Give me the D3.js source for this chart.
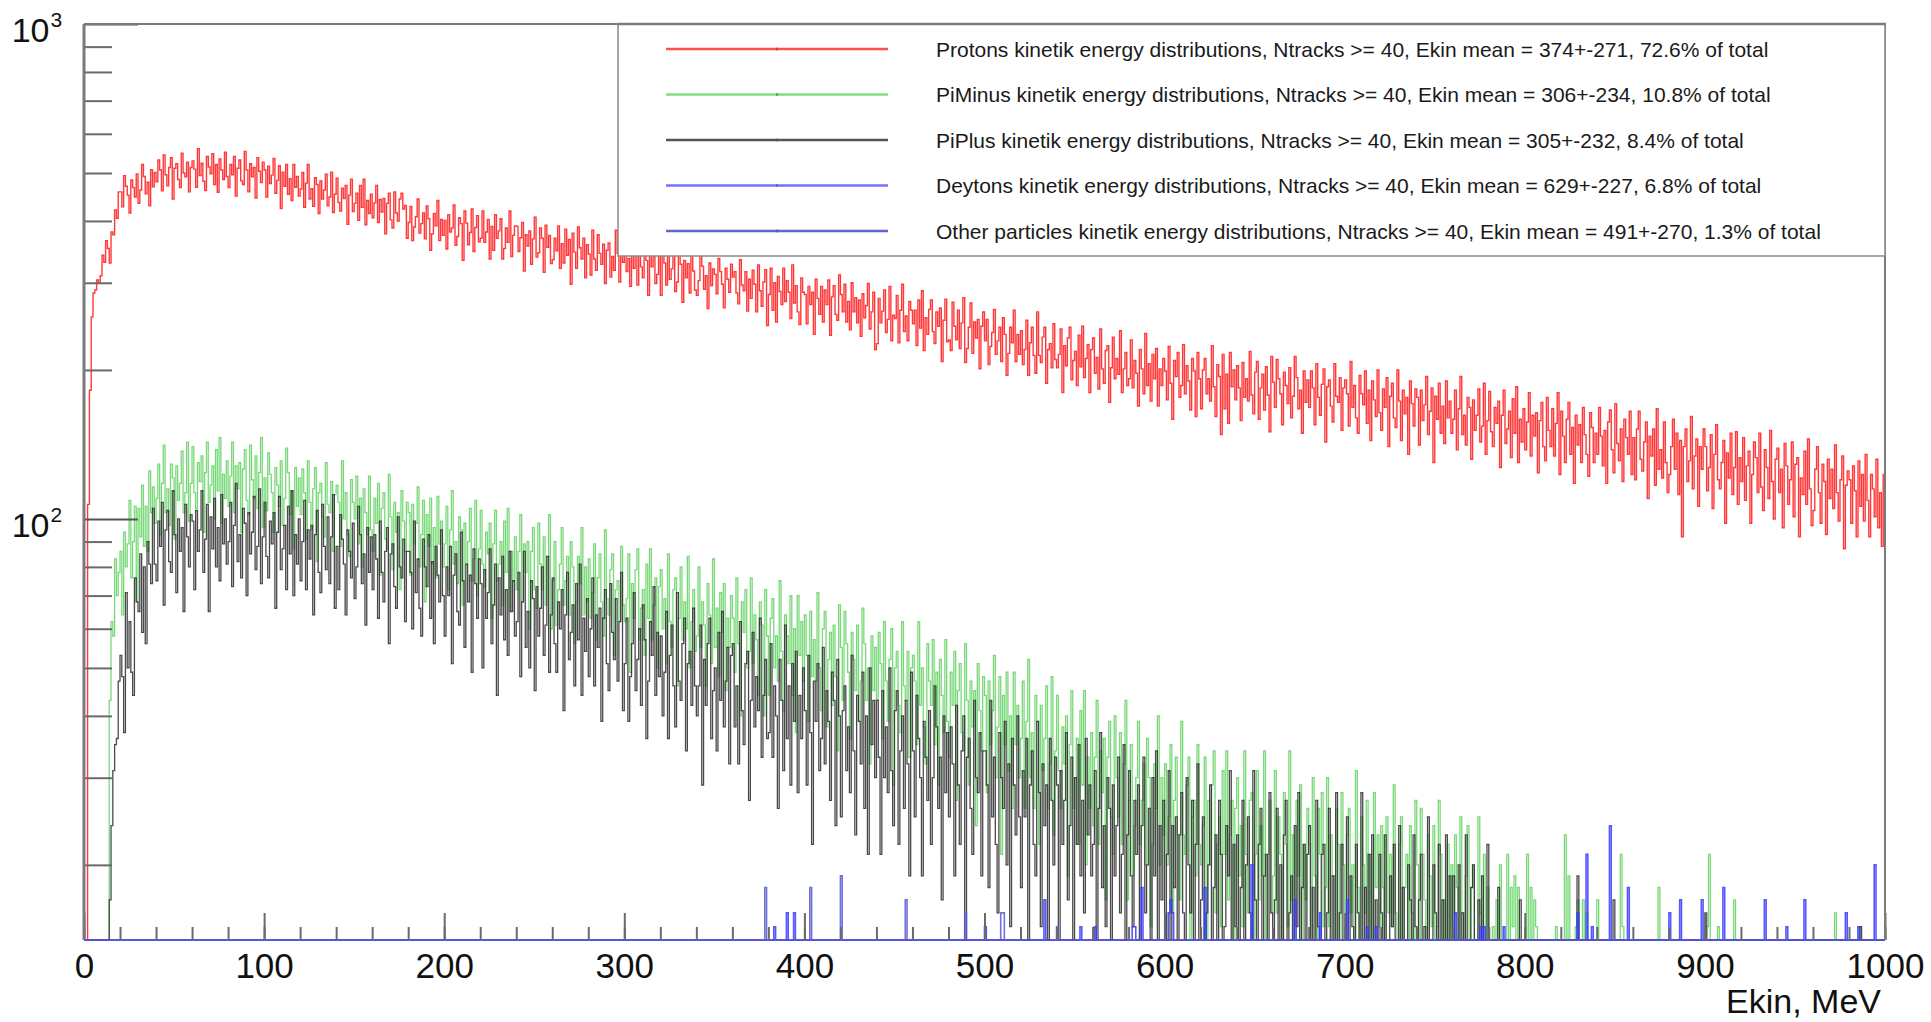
<!DOCTYPE html>
<html><head><meta charset="utf-8">
<script src="https://cdn.jsdelivr.net/npm/d3@7"></script>
<style>
html,body{margin:0;padding:0;background:#fff;}
svg{display:block;font-family:"Liberation Sans",Arial,Helvetica,sans-serif;}
</style></head><body>
<svg id="c" width="1931" height="1022"></svg>
<script>
// Bin contents, 1 MeV bins from 0 to 1000 MeV (counts)
const protons = [
0,0,107,182,256,286,290,304,300,310,341,330,365,352,329,380,375,421,405,458,
458,427,494,470,451,415,484,467,447,498,434,462,520,492,454,479,429,508,469,501,
480,531,507,460,544,496,471,513,537,443,511,522,485,467,548,500,491,526,458,513,
529,509,468,560,494,523,481,461,540,514,498,547,474,520,457,534,507,485,551,492,
467,520,496,540,449,511,531,482,474,553,507,458,522,491,513,445,537,504,478,526,
507,447,516,476,495,535,455,483,517,424,502,470,520,453,487,440,520,468,492,449,
464,501,426,477,520,443,465,428,489,474,414,482,443,462,497,429,447,502,416,453,
488,436,419,466,444,472,394,451,486,418,434,455,401,472,426,486,393,440,414,453,
406,435,472,397,442,417,444,377,434,455,402,387,458,415,400,443,455,423,430,369,
397,428,365,389,408,443,378,395,415,368,429,404,349,377,414,391,440,365,403,374,
401,351,412,380,387,431,357,372,406,395,333,419,396,358,379,423,347,388,410,363,
369,419,362,380,403,335,390,349,412,369,382,404,335,352,387,362,419,339,374,391,
390,347,370,397,317,375,356,382,327,368,407,338,345,387,369,315,392,354,374,328,
334,369,348,391,321,360,329,385,341,367,298,378,346,321,389,353,335,369,307,358,
343,311,383,335,318,375,344,327,359,299,349,361,308,339,318,383,344,301,363,330,
350,316,336,295,373,321,358,297,341,323,307,365,333,283,348,323,340,299,312,355,
283,366,329,297,344,305,320,354,288,301,347,327,274,333,307,328,286,353,317,290,
283,303,348,324,291,310,266,329,296,320,312,285,336,316,298,267,321,305,287,327,
308,316,286,272,334,297,289,316,263,305,279,318,298,262,326,289,269,301,319,246,
284,321,264,300,250,309,288,271,321,275,303,287,254,326,273,296,262,247,307,287,
284,248,295,271,287,236,305,279,259,295,250,290,271,304,235,281,296,259,252,311,
284,262,298,250,275,241,300,262,280,249,277,234,285,255,270,299,242,262,287,220,
226,279,249,263,290,238,253,295,229,258,254,283,227,264,298,239,257,229,275,264,
248,264,224,277,243,289,219,255,236,265,277,239,226,262,245,267,208,252,278,228,
230,219,274,245,230,264,221,249,280,207,221,244,273,216,250,232,253,201,245,262,
229,253,205,223,238,265,215,229,244,208,255,236,195,216,244,227,264,208,236,215,
240,205,220,252,195,227,244,214,197,262,214,207,233,244,188,220,226,202,248,210,
202,215,242,180,224,204,232,244,191,209,218,186,235,203,245,193,211,225,180,220,
232,197,212,183,242,201,188,219,224,172,202,233,192,211,196,240,180,201,217,186,
192,230,184,209,197,169,220,201,179,237,186,206,173,215,192,221,169,201,186,211,
199,174,223,188,159,209,194,217,176,186,225,179,204,190,166,211,199,161,217,192,
167,200,211,179,192,173,224,185,161,205,194,148,215,167,196,156,217,185,200,174,
204,184,158,207,176,192,173,218,178,163,198,208,159,184,196,166,203,178,150,213,
189,168,210,192,179,155,198,186,171,202,160,177,213,193,167,182,149,199,172,191,
168,199,184,155,206,176,162,187,201,143,185,191,169,157,206,177,172,193,151,184,
191,179,154,208,168,186,160,149,195,179,170,199,156,182,144,190,174,161,200,164,
151,183,168,193,140,177,188,160,153,200,173,144,182,163,176,135,190,171,154,183,
176,141,182,158,170,194,148,165,184,130,177,159,188,149,169,142,190,160,173,149,
159,182,138,167,194,148,162,141,176,168,132,174,151,162,183,143,154,188,135,158,
181,150,140,168,156,173,127,162,182,142,152,165,133,175,149,185,130,159,143,167,
138,157,180,134,162,147,164,124,158,172,140,131,176,151,140,167,134,156,180,123,
165,147,130,159,172,135,153,118,162,141,155,130,168,148,135,122,164,153,130,149,
135,168,147,128,151,118,157,166,138,124,171,142,131,152,119,159,146,135,165,123,
146,120,152,165,132,125,143,157,110,147,134,152,117,167,126,138,121,157,130,113,
123,140,159,126,149,112,144,92,140,152,119,131,161,115,134,145,106,140,126,152,
140,114,127,148,105,135,155,120,115,130,144,98,136,121,149,112,127,150,107,133,
119,146,109,128,137,98,123,143,133,113,149,116,104,138,127,110,151,119,100,132,
139,113,126,96,142,128,107,120,143,101,129,133,92,121,112,137,107,145,115,97,
104,126,140,113,98,129,119,93,132,110,126,105,141,113,99,120,134,87,117,125,
120,98,128,114,92,131,106,123,99,135,109,92,123,115,101,132,96,113,88,123
];
const piMinus = [
0,0,0,0,0,0,0,0,0,0,0,0,0,0,43,62,58,83,70,78,
86,64,94,80,89,109,76,90,106,68,105,92,117,88,106,86,125,103,116,98,
110,129,93,118,141,103,115,97,129,121,91,128,109,118,137,103,113,143,99,118,
140,113,105,130,119,134,94,124,143,108,117,128,100,138,114,146,98,123,110,131,
106,122,143,103,128,115,130,94,126,138,109,102,141,120,110,134,105,124,146,96,
121,104,136,123,113,94,127,117,106,131,97,110,139,124,102,114,87,127,106,121,
102,126,113,91,131,108,95,115,127,82,113,118,101,92,130,107,103,119,86,112,
117,108,88,131,100,113,93,84,120,108,100,122,89,110,80,115,103,93,122,95,
86,110,98,118,77,105,113,91,87,123,101,79,108,94,103,72,114,99,86,108,
103,77,107,89,98,116,80,93,109,68,102,88,110,81,96,76,111,89,99,80,
89,106,72,95,114,81,90,74,101,95,67,98,81,90,105,75,83,109,70,87,
104,81,73,94,85,98,63,89,104,75,81,90,67,99,78,105,65,86,75,92,
72,86,102,68,89,78,90,60,86,96,72,66,98,81,72,92,67,84,102,60,
75,90,61,72,81,96,67,75,84,64,90,80,56,68,84,74,96,64,80,68,
83,63,71,89,57,76,85,68,58,95,69,64,79,85,53,72,75,62,88,67,
62,69,85,49,74,63,79,87,57,66,72,53,81,63,87,57,67,76,50,73,
79,60,69,51,85,62,55,72,76,46,63,80,57,68,60,84,50,62,72,54,
58,80,55,68,61,46,74,64,51,83,55,66,48,71,59,74,45,63,55,70,
63,49,76,56,40,68,59,72,50,54,76,51,64,57,44,68,61,40,72,58,
44,63,69,50,58,47,75,54,41,64,58,51,70,44,60,37,70,53,62,47,
64,53,39,65,48,57,47,71,50,41,60,65,38,52,59,42,61,48,34,67,
55,43,65,56,49,36,59,52,45,61,39,47,66,56,43,50,32,58,45,55,
43,59,51,36,62,47,39,52,60,29,50,54,42,37,62,46,43,54,33,50,
53,47,35,62,42,50,38,32,56,47,42,57,35,49,29,52,44,37,57,39,
33,49,42,54,27,45,51,37,34,56,43,29,47,38,45,24,51,41,34,48,
44,28,47,35,41,53,30,38,48,21,44,35,49,31,40,26,49,35,42,30,
36,47,26,39,52,30,37,26,44,39,22,42,31,36,46,26,32,48,23,34,
44,31,26,38,32,40,19,35,45,26,30,36,22,41,29,45,20,33,26,37,
24,33,43,22,34,28,36,17,33,39,25,21,40,30,25,37,22,32,43,17,
27,35,19,24,30,39,22,27,32,20,36,30,15,22,32,26,40,20,30,23,
32,20,25,35,16,27,33,23,17,39,23,21,29,33,14,25,27,19,35,22,
20,24,33,13,27,20,29,34,16,22,25,15,31,21,34,17,23,27,13,26,
30,19,24,15,34,21,16,27,28,11,21,31,17,24,19,34,14,21,27,16,
19,31,16,25,21,12,28,22,15,34,17,23,13,27,19,29,12,22,17,26,
22,14,30,19,9,26,21,28,15,18,30,15,23,19,11,26,22,10,28,20,
12,23,26,16,20,14,31,18,11,25,20,16,27,12,21,8,28,18,23,15,
24,18,10,25,16,21,15,29,16,12,22,25,9,18,21,12,24,16,7,27,
20,13,26,21,17,9,23,19,15,24,10,15,27,21,13,17,7,22,14,20,
13,23,18,10,25,16,12,19,24,6,18,20,13,10,25,16,14,21,8,18,
13,11,15,12,17,10,20,12,14,11,21,13,18,15,19,11,18,9,12,10,
12,21,13,18,12,17,15,10,12,13,9,12,11,14,12,10,13,15,11,12,
10,14,23,13,19,12,11,13,15,17,12,10,17,12,16,9,12,11,13,11,
17,10,12,13,11,9,12,14,10,11,12,13,10,21,15,11,12,10,13,14,
12,10,11,9,13,12,11,10,12,13,9,11,10,12,18,10,11,13,9,12,
10,9,12,11,10,13,9,11,12,10,8,11,10,12,9,11,13,10,12,9,
11,15,21,13,10,12,9,15,11,10,13,12,9,11,10,12,17,11,9,10,
12,10,9,11,13,10,12,9,11,10,8,12,10,9,11,13,10,12,9,11,
10,12,9,11,10,13,9,12,11,10,9,12,10,11,9,10,13,11,9,12,
11,9,10,12,10,11,9,10,13,11,10,9,16,11,10,12,9,10,11,9,
10,11,9,12,10,15,11,9,10,12,11,10,9,11,13,10,9,12,10,11
];
const piPlus = [
0,0,0,0,0,0,0,0,0,0,0,0,0,0,17,24,31,35,36,47,
53,48,37,71,50,62,49,44,76,68,65,85,59,80,56,90,81,74,105,81,
75,99,88,108,67,95,104,82,78,114,93,71,100,86,96,65,107,92,80,102,
99,72,104,86,95,114,78,91,107,65,101,87,110,80,96,75,112,89,100,81,
90,108,73,97,118,82,93,76,105,98,70,103,85,94,111,79,88,115,74,92,
108,84,76,99,89,103,66,94,111,79,87,97,72,106,85,114,70,93,81,100,
75,90,109,72,95,83,97,64,93,104,78,71,107,88,79,101,74,92,112,66,
88,72,102,91,81,64,95,86,76,98,69,80,106,93,74,85,61,96,78,92,
72,93,83,63,99,78,68,86,96,56,85,89,73,66,101,80,76,91,62,86,
86,78,60,99,71,83,66,58,91,80,73,93,63,82,56,88,77,68,95,70,
58,80,70,88,51,77,85,65,61,94,75,55,81,68,77,49,87,74,63,83,
74,50,79,63,71,87,56,67,81,44,76,64,84,57,72,53,86,65,75,58,
62,78,48,68,86,55,65,50,75,69,45,73,58,66,80,53,61,84,49,64,
76,56,49,68,60,72,41,64,78,52,59,67,46,74,57,81,44,63,54,69,
48,60,76,46,64,55,66,39,63,72,51,45,74,59,52,69,47,62,78,41,
51,63,39,48,56,71,45,52,60,42,67,57,36,47,62,53,73,44,59,48,
58,40,49,65,36,53,61,46,38,71,47,43,56,63,34,51,54,42,66,46,
40,46,61,29,52,42,56,63,36,45,50,34,59,43,65,38,47,55,32,53,
56,38,46,32,62,41,35,51,54,27,43,59,38,48,41,63,33,44,52,36,
37,56,33,46,40,26,52,43,31,61,36,46,29,51,39,54,28,44,36,50,
41,29,53,37,22,47,39,51,31,36,55,32,45,39,27,49,43,24,52,40,
25,41,46,31,38,28,53,34,23,44,39,32,49,26,40,21,50,35,43,30,
43,33,21,45,30,38,28,50,31,24,41,45,22,34,40,26,43,32,19,49,
34,25,44,36,30,19,39,33,27,41,22,30,46,38,26,33,17,40,28,37,
25,38,32,19,42,29,22,34,40,14,33,36,26,21,43,30,28,37,19,34,
34,29,18,43,25,33,22,16,37,30,26,39,20,32,15,36,29,23,40,25,
18,31,25,36,13,29,34,22,19,39,28,15,32,24,29,12,36,27,20,33,
29,14,31,22,27,37,17,24,33,10,30,22,35,19,27,16,36,23,29,19,
22,31,13,26,37,18,24,15,30,26,11,29,19,24,33,16,21,35,13,23,
31,19,15,27,21,29,10,24,33,16,20,26,13,30,19,34,12,24,17,27,
14,21,31,13,24,18,25,9,23,28,16,12,30,20,16,27,14,22,32,10,
17,25,10,16,20,29,14,18,23,12,27,21,8,15,24,19,31,13,22,15,
23,12,18,27,10,20,25,16,11,31,17,14,22,26,9,19,21,13,28,16,
13,17,26,7,20,14,23,27,11,16,19,9,24,15,28,12,18,22,8,21,
24,13,18,9,27,15,11,21,22,6,16,26,12,19,14,28,9,16,22,12,
13,25,11,19,15,6,22,16,9,28,12,18,8,21,14,23,7,17,12,21,
16,8,23,13,4,19,15,22,10,12,24,10,18,14,7,20,17,5,23,15,
8,17,21,11,15,10,25,13,6,20,16,12,22,8,17,5,23,14,19,11,
19,13,5,20,11,16,10,23,12,7,18,20,6,14,17,8,19,12,4,22,
10,13,9,12,11,18,11,14,10,12,9,13,11,10,12,9,12,17,8,11,
12,9,11,13,10,8,12,11,9,11,10,12,9,12,10,13,8,11,12,10,
9,12,10,13,11,8,10,12,11,19,9,12,10,11,9,11,10,12,9,11,
10,8,11,9,12,10,9,11,8,17,10,9,11,8,10,12,9,10,8,11,
9,10,8,11,9,10,12,8,9,10,11,8,9,10,8,11,9,10,12,8,
9,8,10,11,9,8,10,9,11,8,10,9,8,10,9,11,8,9,10,8,
16,9,8,10,9,11,8,9,10,8,9,10,8,11,9,8,10,9,8,10,
8,9,10,8,11,9,8,10,9,8,10,9,11,8,9,10,8,9,10,8,
9,8,10,9,8,11,9,10,8,9,10,8,9,11,8,9,10,8,9,10,
8,10,9,8,9,11,8,10,9,8,10,9,8,9,11,8,10,9,8,9,
9,8,10,9,11,8,15,9,8,10,9,8,10,9,8,11,9,8,10,9
];
// Sparse series: only bins rising above the axis floor are listed [bin, count]
const deuteronBins = [[383,15],[390,16],[394,16],[500,15],[533,17],[553,15],[561,15],[582,15],[583,15],[587,18],[602,16],[603,17],[604,16],[622,18],[648,20],[672,17],[686,16],[701,17],[712,15],[717,15],[761,16],[775,15],[777,15],[788,15],[829,16],[834,21],[837,15],[847,24],[857,18],[880,16],[886,17],[898,17],[910,18],[933,17],[945,15],[955,17],[978,16],[985,15],[994,20]];
const otherBins = [[378,18],[403,18],[420,19],[456,17],[489,16],[509,16],[510,16],[540,15]];

const legendLabels = [
 "Protons kinetik energy distributions, Ntracks >= 40, Ekin mean = 374+-271, 72.6% of total",
 "PiMinus kinetik energy distributions, Ntracks >= 40, Ekin mean = 306+-234, 10.8% of total",
 "PiPlus kinetik energy distributions, Ntracks >= 40, Ekin mean = 305+-232, 8.4% of total",
 "Deytons kinetik energy distributions, Ntracks >= 40, Ekin mean = 629+-227, 6.8% of total",
 "Other particles kinetik energy distributions, Ntracks >= 40, Ekin mean = 491+-270, 1.3% of total"
];
const xMajorTicks = [0,100,200,300,400,500,600,700,800,900,1000];
const yMajorTicks = [100,1000];
const yMinorTicks = [20,30,40,50,60,70,80,90,200,300,400,500,600,700,800,900];
const xLabel = "Ekin, MeV";

const NB = 1000;
const W=1931,H=1022, X0=84, X1=1885, Y0=940, Y1=24;
const YMIN=14.1, YMAX=1000;
const x=d3.scaleLinear().domain([0,1000]).range([X0,X1]);
const y=d3.scaleLog().domain([YMIN,YMAX]).range([Y0,Y1]).clamp(true);
const svg=d3.select('#c');
svg.append('rect').attr('width',W).attr('height',H).attr('fill','#fff');

function fromSparse(list){
  const m=new Map(list);
  return d3.range(NB).map(i=>m.has(i)?m.get(i):0);
}
const deuterons=fromSparse(deuteronBins), others=fromSparse(otherBins);

function stepPts(vals){
  const pts=[[0,YMIN]];
  vals.forEach((v,i)=>pts.push([i,Math.max(v,YMIN)]));
  pts.push([vals.length,Math.max(vals[vals.length-1],YMIN)]);
  pts.push([vals.length,YMIN]);
  return pts;
}
const line=d3.line().x(d=>x(d[0])).y(d=>y(d[1])).curve(d3.curveStepAfter);

svg.append('line').attr('x1',X0).attr('x2',X1).attr('y1',Y0).attr('y2',Y0).attr('stroke','#888').attr('stroke-width',2);

const series=[
 {v:protons, c:'#ff2e2e', w:1.4, o:0.95},
 {v:piMinus, c:'#62d262', w:1.3, o:0.85},
 {v:piPlus,  c:'#2a2a2a', w:1.3, o:0.85},
 {v:deuterons, c:'#3a3aff', w:1.6, o:0.85},
 {v:others, c:'#5a5ad8', w:1.6, o:0.85}
];
const hg=svg.append('g');
series.forEach(s=>{
  hg.append('path').attr('d',line(stepPts(s.v))).attr('fill','none')
    .attr('stroke',s.c).attr('stroke-width',s.w).attr('stroke-opacity',s.o)
    .attr('stroke-linejoin','miter');
});

function styleAxis(g){
  g.select('.domain').remove();
  g.selectAll('.tick line').attr('stroke','#6a6a6a').attr('stroke-width',2);
}
const gxMinor=svg.append('g').attr('transform',`translate(0,${Y0})`)
  .call(d3.axisBottom(x).tickValues(d3.range(0,1001,20)).tickSize(-13).tickFormat(''));
styleAxis(gxMinor);
const gxMajor=svg.append('g').attr('transform',`translate(0,${Y0})`)
  .call(d3.axisBottom(x).tickValues(xMajorTicks).tickSize(-27).tickPadding(13).tickFormat(d3.format('d')));
styleAxis(gxMajor);
gxMajor.selectAll('.tick text').attr('font-size',35).attr('fill','#111')
  .attr('font-family','"Liberation Sans",Arial,sans-serif');

const gyMinor=svg.append('g').attr('transform',`translate(${X0},0)`)
  .call(d3.axisLeft(y).tickValues(yMinorTicks).tickSize(-28).tickFormat(''));
styleAxis(gyMinor);
const gyMajor=svg.append('g').attr('transform',`translate(${X0},0)`)
  .call(d3.axisLeft(y).tickValues(yMajorTicks).tickSize(-54).tickFormat(''));
styleAxis(gyMajor);
gyMajor.selectAll('.tick line').attr('stroke','#555');

yMajorTicks.forEach(v=>{
  const yy=y(v);
  svg.append('text').attr('x',49.5).attr('y',yy+18).attr('text-anchor','end')
    .attr('font-size',34).attr('fill','#111').text('10');
  svg.append('text').attr('x',50.5).attr('y',yy+3).attr('text-anchor','start')
    .attr('font-size',21).attr('fill','#111').text(String(Math.round(Math.log10(v))));
});

svg.append('line').attr('x1',X0).attr('x2',X0).attr('y1',Y1).attr('y2',Y0).attr('stroke','#7a7a7a').attr('stroke-width',3);
svg.append('line').attr('x1',X0).attr('x2',X1+1).attr('y1',Y1).attr('y2',Y1).attr('stroke','#7a7a7a').attr('stroke-width',2);
svg.append('line').attr('x1',X1).attr('x2',X1).attr('y1',Y1).attr('y2',Y0).attr('stroke','#7a7a7a').attr('stroke-width',2);

svg.append('text').attr('x',1881).attr('y',1013).attr('text-anchor','end')
  .attr('font-size',34).attr('fill','#111').text(xLabel);

const lg=svg.append('g');
lg.append('rect').attr('x',618).attr('y',Y1).attr('width',X1-618).attr('height',232)
  .attr('fill','#fff').attr('stroke','#8a8a8a').attr('stroke-width',1.5);
lg.append('line').attr('x1',618).attr('x2',X1+1).attr('y1',Y1).attr('y2',Y1).attr('stroke','#7a7a7a').attr('stroke-width',2.5);
const legendColors=['#ff5050','#80dd80','#555555','#7070ff','#6464cc'];
legendLabels.forEach((t,i)=>{
  const yy=49+i*45.5;
  lg.append('line').attr('x1',666).attr('x2',888).attr('y1',yy).attr('y2',yy)
    .attr('stroke',legendColors[i]).attr('stroke-width',2.5);
  lg.append('line').attr('x1',777).attr('x2',777).attr('y1',yy-1.5).attr('y2',yy+1.5)
    .attr('stroke','#555').attr('stroke-width',1);
  lg.append('text').attr('x',936).attr('y',yy+7.5).attr('font-size',21).attr('fill','#1a1a1a').text(t);
});
</script>
</body></html>
